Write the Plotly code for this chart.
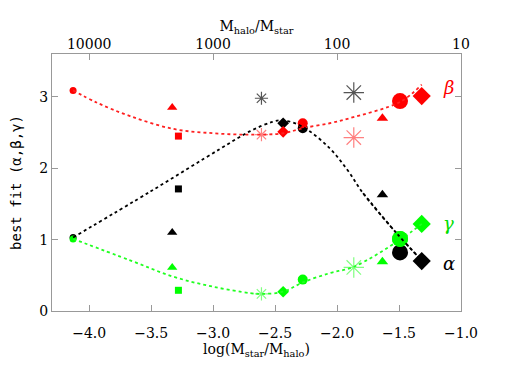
import plotly.graph_objects as go

# sample positions, log(Mstar/Mhalo)
x_pts = [-4.13, -3.33, -3.28, -2.61, -2.435, -2.277, -1.865, -1.634, -1.492, -1.317]
alpha = [1.03, 1.10, 1.71, 2.98, 2.63, 2.56, 3.06, 1.63, 0.82, 0.70]
beta = [3.09, 2.85, 2.45, 2.47, 2.51, 2.63, 2.43, 2.70, 2.94, 3.01]
gamma = [1.01, 0.61, 0.29, 0.24, 0.27, 0.44, 0.61, 0.69, 1.01, 1.22]

# dotted fit curves
beta_fit_x = [-4.13, -3.94, -3.67, -3.32, -3.0, -2.7, -2.435, -2.277, -2.06, -1.9, -1.49, -1.317]
beta_fit_y = [3.09, 2.92, 2.73, 2.55, 2.49, 2.47, 2.49, 2.56, 2.63, 2.70, 2.93, 3.17]
alpha_fit_x = [-4.13, -3.5, -2.945, -2.7, -2.52, -2.435, -2.277, -2.06, -1.91, -1.79, -1.52, -1.317]
alpha_fit_y = [1.03, 1.68, 2.27, 2.52, 2.65, 2.67, 2.58, 2.28, 1.96, 1.65, 1.09, 0.71]
gamma_fit_x = [-4.13, -3.67, -3.32, -3.0, -2.7, -2.61, -2.435, -2.277, -2.06, -1.865, -1.49, -1.317]
gamma_fit_y = [1.01, 0.71, 0.48, 0.34, 0.25, 0.24, 0.27, 0.40, 0.53, 0.62, 1.0, 1.22]

top_vals = [-4, -3, -2, -1]
top_text = ["10000", "1000", "100", "10"]

# per-sample marker style: symbol, size
styles = [("circle", 7), ("triangle-up", 9), ("square", 7), ("asterisk-open", 11),
          ("diamond", 9), ("circle", 10), ("asterisk-open", 17), ("triangle-up", 10),
          ("circle", 16), ("diamond", 14)]

fig = go.Figure()

fits = [(alpha_fit_x, alpha_fit_y, "black"), (beta_fit_x, beta_fit_y, "#ff2020"),
        (gamma_fit_x, gamma_fit_y, "#20ff20")]

series = [(alpha, "black", "#555555"), (beta, "red", "#ff8080"), (gamma, "#00ff00", "#80ff80")]

for vals, col, light in series:
    for i, (sym, sz) in enumerate(styles):
        star = sym.startswith("asterisk")
        fig.add_trace(go.Scatter(
            x=[x_pts[i]], y=[vals[i]], mode="markers",
            marker=dict(symbol=sym, size=sz, color=light if star else col,
                        line=dict(width=1.2 if star else 0, color=light if star else col)),
            showlegend=False))

# green circle drawn over the black one, black fit on top
for fx, fy, col in fits[1:] + fits[:1]:
    fig.add_trace(go.Scatter(x=fx, y=fy, mode="lines", line=dict(color=col, width=1.8, dash="dot", shape="spline"),
                             showlegend=False))
fig.add_trace(go.Scatter(x=[x_pts[8]], y=[gamma[8]], mode="markers",
                         marker=dict(symbol="circle", size=16, color="#00ff00"), showlegend=False))
fig.add_trace(go.Scatter(x=alpha_fit_x[-3:], y=alpha_fit_y[-3:], mode="lines",
                         line=dict(color="black", width=1.8, dash="dot", shape="spline"), showlegend=False))

# dummy trace to activate top axis
fig.add_trace(go.Scatter(x=[-4.3, -1.0], y=[None, None], xaxis="x2", showlegend=False, hoverinfo="skip"))

for txt, yv, col in [("β", 3.13, "red"), ("γ", 1.23, "#00dd00"), ("α", 0.66, "black")]:
    fig.add_annotation(x=-1.165, y=yv, text="<i>" + txt + "</i>", showarrow=False,
                       font=dict(size=18, color=col, family="DejaVu Serif"), xanchor="left")

# page has an 8px body margin, so the figure is a bit smaller than the window
axfont = dict(family="DejaVu Serif", size=14, color="black")
fig.update_layout(
    width=500, height=354,
    margin=dict(l=44, r=47, t=46, b=51),
    paper_bgcolor="white", plot_bgcolor="white",
    font=axfont,
    xaxis=dict(range=[-4.3, -1.0], tickvals=[-4.0, -3.5, -3.0, -2.5, -2.0, -1.5, -1.0],
               ticktext=["−4.0", "−3.5", "−3.0", "−2.5", "−2.0", "−1.5", "−1.0"],
               ticks="inside", ticklen=6, tickcolor="#999999", showline=True, linecolor="#999999",
               showgrid=False, zeroline=False, automargin=False, ticklabelstandoff=9,
               title=dict(text="log(M<sub>star</sub>/M<sub>halo</sub>)", standoff=0, font=axfont)),
    xaxis2=dict(range=[-4.3, -1.0], overlaying="x", side="top", tickvals=top_vals, ticktext=top_text,
                ticks="inside", ticklen=6, tickcolor="#999999", showline=True, linecolor="#999999",
                showgrid=False, zeroline=False, automargin=False, ticklabelstandoff=-2,
                title=dict(text="M<sub>halo</sub>/M<sub>star</sub>", standoff=0, font=axfont)),
    yaxis=dict(range=[0, 3.6], tickvals=[0, 1, 2, 3], ticks="inside", ticklen=6, tickcolor="#999999",
               showline=True, linecolor="#999999", mirror="ticks", showgrid=False, zeroline=False,
               automargin=False,
               title=dict(text="best fit (α,β,γ)", standoff=14,
                          font=dict(family="DejaVu Sans Mono", size=14, color="black"))),
)

fig.write_html("out.html")
